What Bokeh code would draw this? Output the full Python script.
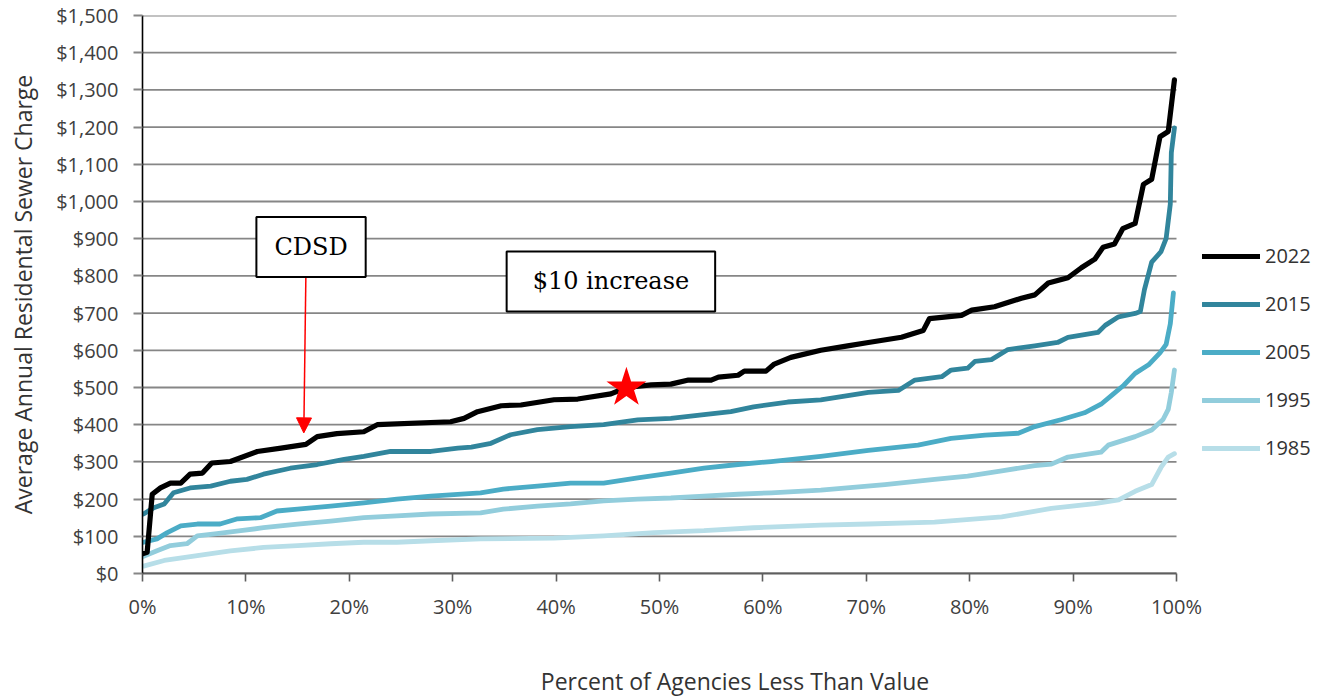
from bokeh.plotting import figure
from bokeh.models import (Range1d, FixedTicker, NumeralTickFormatter, PrintfTickFormatter,
                          Legend, LegendItem, Label, Arrow, NormalHead, ColumnDataSource)
from bokeh.embed import file_html
from bokeh.resources import INLINE

# ---------------- data ----------------
series_names = ["2022", "2015", "2005", "1995", "1985"]

pct_2022 = [0, 0.45, 0.94, 1.74, 2.7, 3.7, 4.6, 5.8, 6.7, 8.5, 11.1, 13.4, 15.8, 16.9, 18.8,
            21.4, 22.7, 29.8, 31.1, 32.4, 34.7, 36.6, 39.8, 42.1, 45.3, 46.8, 49.2, 51.1,
            52.8, 55.0, 55.7, 57.6, 58.2, 60.3, 61.1, 62.7, 65.6, 68.2, 70.2, 73.4, 75.5,
            76.1, 79.2, 80.2, 82.4, 85.0, 86.3, 87.6, 89.5, 90.8, 92.1, 92.9, 94.0, 94.8,
            96.0, 96.8, 97.6, 98.4, 99.2, 99.8]
val_2022 = [53, 57, 213, 230, 243, 243, 267, 270, 297, 301, 328, 337, 347, 368, 376,
            381, 400, 408, 417, 435, 451, 453, 467, 469, 483, 500, 507, 509,
            520, 520, 528, 533, 544, 544, 563, 581, 600, 612, 621, 635, 653,
            685, 694, 708, 717, 740, 749, 781, 795, 822, 845, 877, 886, 927,
            941, 1046, 1060, 1174, 1188, 1327]

pct_2015 = [0.1, 1.1, 2.1, 3.0, 4.6, 6.6, 8.5, 10.1, 11.7, 14.3, 16.9, 19.5, 21.4, 24.0,
            27.9, 30.5, 31.8, 33.7, 35.6, 38.2, 41.4, 44.6, 47.9, 51.1, 54.3, 56.9, 59.1,
            62.4, 65.6, 70.2, 73.1, 74.7, 77.3, 78.2, 79.8, 80.5, 82.1, 83.7, 86.3, 88.5,
            89.5, 92.4, 93.1, 94.4, 96.0, 96.5, 96.9, 97.6, 98.5, 99.0, 99.4, 99.5, 99.8]
val_2015 = [160, 177, 187, 217, 230, 235, 248, 253, 267, 283, 293, 307, 315, 328,
            328, 337, 340, 350, 373, 387, 395, 400, 413, 417, 427, 435, 448,
            461, 467, 487, 492, 520, 529, 547, 552, 570, 575, 602, 612, 621,
            635, 648, 667, 690, 699, 704, 763, 837, 865, 901, 993, 1131, 1198]

pct_2005 = [0.1, 1.4, 2.4, 3.7, 5.3, 7.5, 9.2, 11.4, 13.0, 15.0, 18.2, 21.4, 24.6, 27.9,
            32.7, 34.9, 38.2, 41.4, 44.6, 47.9, 51.1, 54.3, 57.6, 60.8, 65.6, 70.2, 75.0,
            78.2, 81.5, 84.7, 86.3, 88.9, 91.1, 92.7, 93.7, 94.9, 96.0, 97.3, 98.4, 99.0,
            99.4, 99.7]
val_2005 = [84, 93, 110, 128, 133, 133, 147, 150, 168, 173, 181, 190, 200, 208,
            217, 227, 235, 243, 243, 257, 270, 283, 293, 301, 315, 331, 345,
            363, 372, 377, 395, 414, 432, 455, 478, 506, 538, 561, 593, 616,
            671, 754]

pct_1995 = [0.1, 1.4, 2.7, 4.3, 5.3, 7.2, 9.5, 11.7, 15.0, 18.2, 21.4, 24.6, 27.9, 32.7,
            34.9, 38.2, 41.4, 44.6, 47.9, 51.1, 54.3, 57.6, 60.8, 65.6, 71.8, 76.6, 79.8,
            83.1, 86.3, 87.9, 89.5, 92.7, 93.4, 96.0, 97.6, 98.7, 99.2, 99.5, 99.8]
val_1995 = [46, 61, 75, 80, 101, 107, 115, 123, 133, 141, 150, 155, 160, 163,
            173, 181, 187, 195, 200, 203, 208, 213, 217, 224, 239, 253, 262,
            276, 290, 294, 313, 326, 345, 368, 386, 414, 441, 487, 547]

pct_1985 = [0.1, 2.1, 5.3, 8.5, 11.7, 15.0, 18.2, 21.4, 24.6, 27.9, 32.7, 39.8, 44.6,
            49.5, 54.3, 59.1, 65.6, 70.2, 76.6, 83.1, 87.9, 92.1, 94.4, 96.0, 97.6, 98.5,
            99.2, 99.8]
val_1985 = [20, 35, 48, 61, 70, 75, 80, 84, 84, 88, 93, 95, 101,
            110, 115, 123, 130, 133, 138, 152, 175, 188, 198, 221, 239, 285,
            313, 322]

x_ticks = [0, 10, 20, 30, 40, 50, 60, 70, 80, 90, 100]
y_ticks = [0, 100, 200, 300, 400, 500, 600, 700, 800, 900, 1000, 1100, 1200, 1300, 1400, 1500]

# annotations
cdsd_text = "CDSD"
cdsd_pos = (16.3, 878)
cdsd_arrow_start = (15.8, 800)
cdsd_arrow_end = (15.6, 378)
inc_text = "$10 increase"
inc_pos = (45.3, 785)
star_pct = [46.8]
star_val = [499]

colors = {"2022": "#000000", "2015": "#31859C", "2005": "#4BACC6",
          "1995": "#92CDDC", "1985": "#B7DEE8"}
series = {"2022": (pct_2022, val_2022), "2015": (pct_2015, val_2015),
          "2005": (pct_2005, val_2005), "1995": (pct_1995, val_1995),
          "1985": (pct_1985, val_1985)}

FONT = "Open Sans"
TXT = "#404040"
GRID = "#868686"

W, H = 1327, 699
LEFT, PLOT_W = 142, 1034          # frame left edge and pixel width of 0..100 %
x_end = 100.0 * (W - LEFT) / PLOT_W  # frame extends to the right edge to hold the legend

p = figure(width=W, height=H, output_backend="svg", toolbar_location=None,
           x_range=Range1d(0, x_end), y_range=Range1d(0, 1500),
           min_border_left=LEFT, min_border_right=0, min_border_top=15,
           min_border_bottom=H - 578)
p.outline_line_color = None
p.background_fill_color = "white"

# grid lines only across 0..100 %
p.xgrid.grid_line_color = None
p.ygrid.grid_line_color = None
grid_src = ColumnDataSource(dict(x0=[x_ticks[0]] * len(y_ticks), x1=[x_ticks[-1]] * len(y_ticks),
                                 y=y_ticks))
p.segment(x0="x0", y0="y", x1="x1", y1="y", source=grid_src, line_color=GRID, line_width=1.8)

# axes
xa = p.xaxis[0]
xa.ticker = FixedTicker(ticks=x_ticks)
xa.bounds = (x_ticks[0], x_ticks[-1])
xa.formatter = PrintfTickFormatter(format="%d%%")
xa.axis_line_color = "#5e5e5e"
xa.axis_line_width = 1.8
xa.major_tick_line_color = "#5e5e5e"
xa.major_tick_line_width = 1.6
xa.major_tick_out = 8
xa.major_tick_in = 0
xa.minor_tick_line_color = None
xa.major_label_text_font = FONT
xa.major_label_text_font_size = "20px"
xa.major_label_text_color = TXT
xa.major_label_standoff = 11
xa.axis_label = "Percent of Agencies Less Than Value"
xa.axis_label_text_font = FONT
xa.axis_label_text_font_size = "23px"
xa.axis_label_text_font_style = "normal"
xa.axis_label_text_color = "#333333"
xa.axis_label_standoff = 42

ya = p.yaxis[0]
ya.ticker = FixedTicker(ticks=y_ticks)
ya.formatter = NumeralTickFormatter(format="$0,0")
ya.axis_line_color = "#000000"
ya.axis_line_width = 1.6
ya.major_tick_line_color = GRID
ya.major_tick_line_width = 1.8
ya.major_tick_out = 9
ya.major_tick_in = 0
ya.minor_tick_line_color = None
ya.major_label_text_font = FONT
ya.major_label_text_font_size = "20px"
ya.major_label_text_color = TXT
ya.major_label_standoff = 15
ya.axis_label = "Average Annual Residental Sewer Charge"
ya.axis_label_text_font = FONT
ya.axis_label_text_font_size = "23px"
ya.axis_label_text_font_style = "normal"
ya.axis_label_text_color = "#333333"
ya.axis_label_standoff = 14

# lines (older first so 2022 is drawn on top)
renderers = {}
for name in ["1985", "1995", "2005", "2015", "2022"]:
    xs, ys = series[name]
    src = ColumnDataSource(dict(x=xs, y=ys))
    renderers[name] = p.line("x", "y", source=src, line_color=colors[name],
                             line_width=5.2 if name == "2022" else 4.8,
                             line_join="round", line_cap="round")

legend = Legend(items=[LegendItem(label=n, renderers=[renderers[n]]) for n in series_names],
                location=(1060, 112), orientation="vertical",
                glyph_width=58, glyph_height=20, label_height=20, spacing=21,
                label_standoff=5, padding=0, margin=0,
                border_line_color=None, background_fill_alpha=0,
                label_text_font=FONT, label_text_font_size="20px",
                label_text_color="#333333")
p.add_layout(legend, "center")

# annotations
p.add_layout(Arrow(end=NormalHead(size=15, fill_color="red", line_color="red"),
                   x_start=cdsd_arrow_start[0], y_start=cdsd_arrow_start[1],
                   x_end=cdsd_arrow_end[0], y_end=cdsd_arrow_end[1],
                   line_color="red", line_width=1.5))

for txt, pos, pad in [(cdsd_text, cdsd_pos, (18, 16)), (inc_text, inc_pos, (26, 16))]:
    p.add_layout(Label(x=pos[0], y=pos[1], text=txt, text_align="center",
                       text_baseline="middle", text_font="DejaVu Serif",
                       text_font_size="24px", text_color="#000000",
                       background_fill_color="white", border_line_color="#000000",
                       border_line_width=2, padding=pad))

star_src = ColumnDataSource(dict(x=star_pct, y=star_val))
p.scatter("x", "y", source=star_src, marker="star", size=42, fill_color="#FF0000",
          line_color=None)

open("out.html", "w").write(file_html(p, INLINE))
